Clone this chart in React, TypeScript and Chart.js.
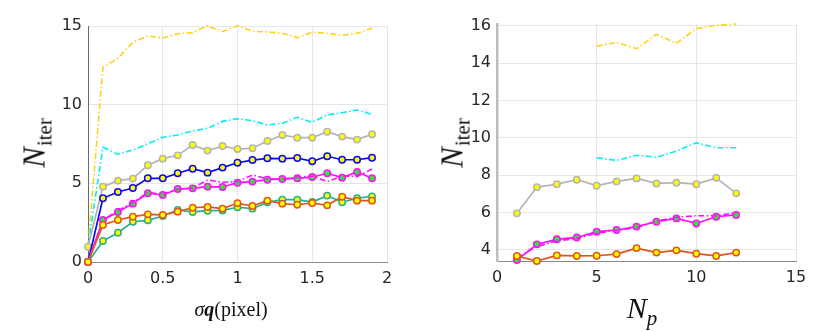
import React, { useEffect, useRef } from "react";
import { Chart, registerables } from "chart.js";

Chart.register(...registerables);

// ---------- Left panel: N_iter vs sigma q ----------
const sigmaQ = [0, 0.1, 0.2, 0.3, 0.4, 0.5, 0.6, 0.7, 0.8, 0.9, 1.0, 1.1, 1.2, 1.3, 1.4, 1.5, 1.6, 1.7, 1.8, 1.9];
const yellowL = [1, 12.38, 12.95, 13.97, 14.37, 14.24, 14.51, 14.58, 15.02, 14.64, 15.02, 14.67, 14.62, 14.54, 14.26, 14.6, 14.54, 14.41, 14.54, 14.86];
const cyanL = [1, 7.29, 6.84, 7.12, 7.5, 7.93, 8.07, 8.33, 8.5, 8.94, 9.11, 8.98, 8.71, 8.82, 9.2, 8.88, 9.35, 9.49, 9.66, 9.39];
const grayL = [0.97, 4.79, 5.17, 5.3, 6.15, 6.57, 6.78, 7.44, 7.08, 7.37, 7.18, 7.23, 7.69, 8.07, 7.9, 7.9, 8.28, 7.97, 7.78, 8.12];
const blueL = [0, 4.05, 4.45, 4.7, 5.32, 5.32, 5.64, 5.93, 5.68, 6.0, 6.31, 6.48, 6.59, 6.57, 6.61, 6.4, 6.72, 6.5, 6.5, 6.63];
const magentaL = [0, 2.67, 3.18, 3.71, 4.37, 4.26, 4.64, 4.68, 4.79, 4.77, 5.04, 5.11, 5.23, 5.28, 5.32, 5.4, 5.64, 5.36, 5.72, 5.32];
const magentaDashL = [0, 2.67, 3.27, 3.77, 4.42, 4.3, 4.62, 4.7, 5.21, 5.07, 5.11, 5.53, 5.28, 5.26, 5.4, 5.47, 5.11, 5.47, 5.43, 5.91];
const orangeL = [0, 2.35, 2.67, 2.88, 3.03, 2.99, 3.2, 3.45, 3.5, 3.39, 3.73, 3.56, 3.9, 3.71, 3.64, 3.75, 3.6, 4.15, 3.9, 3.9];
const tealL = [0, 1.33, 1.86, 2.56, 2.65, 2.92, 3.31, 3.18, 3.26, 3.28, 3.48, 3.39, 3.8, 3.96, 3.96, 3.81, 4.22, 3.8, 4.05, 4.17];
const xTicksL = [0, 0.5, 1, 1.5, 2];
const yTicksL = [0, 5, 10, 15];

// ---------- Right panel: N_iter vs N_p ----------
const Np = [1, 2, 3, 4, 5, 6, 7, 8, 9, 10, 11, 12];
const NpTail = [5, 6, 7, 8, 9, 10, 11, 12];
const yellowR = [14.9, 15.11, 14.77, 15.54, 15.06, 15.84, 16.02, 16.09];
const cyanR = [8.93, 8.79, 9.07, 8.96, 9.29, 9.73, 9.47, 9.47];
const grayR = [5.96, 7.36, 7.52, 7.76, 7.44, 7.67, 7.83, 7.56, 7.6, 7.52, 7.86, 7.03];
const magentaR = [3.46, 4.3, 4.57, 4.67, 4.98, 5.07, 5.25, 5.51, 5.69, 5.42, 5.78, 5.87];
const magentaDashR = [3.6, 4.18, 4.48, 4.62, 4.9, 5.05, 5.2, 5.55, 5.75, 5.83, 5.83, 6.0];
const orangeR = [3.68, 3.41, 3.71, 3.68, 3.69, 3.78, 4.1, 3.86, 3.98, 3.8, 3.68, 3.86];
const xTicksR = [0, 5, 10, 15];
const yTicksR = [4, 6, 8, 10, 12, 14, 16];

const C = {
  yellow: "#ffd21a",
  cyan: "#00f0f0",
  gray: "#b4b4b4",
  blue: "#0a0af0",
  magenta: "#ff10ff",
  orange: "#e0561c",
  teal: "#2aae8e",
  markYellow: "#ffff00",
  markGreen: "#2ee82e",
};
const DASHDOT = [6, 2.5, 1.5, 2.5];

const pts = (xs: number[], ys: number[]) => xs.map((x, i) => ({ x, y: ys[i] }));

function dashed(label: string, xs: number[], ys: number[], color: string) {
  return {
    label,
    data: pts(xs, ys),
    borderColor: color,
    borderWidth: 1.6,
    borderDash: DASHDOT,
    pointRadius: 0,
    fill: false,
    tension: 0,
    clip: false as const,
  };
}

function marked(label: string, xs: number[], ys: number[], color: string, fillColor: string) {
  return {
    label,
    data: pts(xs, ys),
    borderColor: color,
    borderWidth: 1.7,
    pointRadius: 3.2,
    pointBorderWidth: 1.5,
    pointBorderColor: color,
    pointBackgroundColor: fillColor,
    fill: false,
    tension: 0,
    clip: false as const,
  };
}

const tickFont = { family: "DejaVu Sans", size: 16 };

function scales(
  xr: [number, number], xt: number[], yr: [number, number], yt: number[],
  yWidth: number, xHeight: number, yBorder: { color: string; width: number }
) {
  return {
    x: {
      type: "linear" as const,
      min: xr[0],
      max: xr[1],
      afterBuildTicks: (s: any) => { s.ticks = xt.map((v) => ({ value: v })); },
      afterFit: (s: any) => { s.height = xHeight; },
      ticks: { font: tickFont, color: "#262626", padding: 7, maxRotation: 0, autoSkip: false, callback: (v: any) => String(v) },
      grid: { color: "#e6e6e6", drawTicks: false, lineWidth: 1 },
      border: { color: "#8a8a8a", width: 1 },
    },
    y: {
      type: "linear" as const,
      min: yr[0],
      max: yr[1],
      afterBuildTicks: (s: any) => { s.ticks = yt.map((v) => ({ value: v })); },
      afterFit: (s: any) => { s.width = yWidth; },
      ticks: { font: tickFont, color: "#262626", padding: 6, autoSkip: false, callback: (v: any) => String(v) },
      grid: { color: "#e6e6e6", drawTicks: false, lineWidth: 1 },
      border: yBorder,
    },
  };
}

function ChartBox({ config, left }: { config: any; left: number }) {
  const ref = useRef<HTMLCanvasElement>(null);
  useEffect(() => {
    const chart = new Chart(ref.current as HTMLCanvasElement, config);
    return () => chart.destroy();
  }, []);
  return (
    <div style={{ position: "absolute", left, top: 0, width: 415, height: 332 }}>
      <canvas ref={ref} width={415} height={332} style={{ width: 415, height: 332 }} />
    </div>
  );
}

const leftConfig = {
  type: "line",
  data: {
    datasets: [
      marked("orange", sigmaQ, orangeL, C.orange, C.markYellow),
      marked("teal", sigmaQ, tealL, C.teal, C.markYellow),
      dashed("magenta dash", sigmaQ, magentaDashL, C.magenta),
      marked("magenta", sigmaQ, magentaL, C.magenta, C.markGreen),
      marked("blue", sigmaQ, blueL, C.blue, C.markYellow),
      marked("gray", sigmaQ, grayL, C.gray, C.markYellow),
      dashed("cyan", sigmaQ, cyanL, C.cyan),
      dashed("yellow", sigmaQ, yellowL, C.yellow),
    ],
  },
  options: {
    animation: false,
    responsive: false,
    maintainAspectRatio: false,
    layout: { padding: { left: 0, top: 26, right: 28, bottom: 0 } },
    plugins: { legend: { display: false }, tooltip: { enabled: false } },
    scales: scales([0, 2], xTicksL, [0, 15], yTicksL, 88, 70, { color: "#6a6a6a", width: 1 }),
  },
};

const rightConfig = {
  type: "line",
  data: {
    datasets: [
      marked("orange", Np, orangeR, C.orange, C.markYellow),
      dashed("magenta dash", Np, magentaDashR, C.magenta),
      marked("magenta", Np, magentaR, C.magenta, C.markGreen),
      marked("gray", Np, grayR, C.gray, C.markYellow),
      dashed("cyan", NpTail, cyanR, C.cyan),
      dashed("yellow", NpTail, yellowR, C.yellow),
    ],
  },
  options: {
    animation: false,
    responsive: false,
    maintainAspectRatio: false,
    layout: { padding: { left: 0, top: 24, right: 34, bottom: 0 } },
    plugins: { legend: { display: false }, tooltip: { enabled: false } },
    scales: scales([0, 15], xTicksR, [3.41, 16.09], yTicksR, 82, 71, { color: "#bdbdbd", width: 2.5 }),
  },
};

const serif = "'Liberation Serif', 'DejaVu Serif', serif";

function YTitle({ x }: { x: number }) {
  return (
    <div
      style={{
        position: "absolute", left: x, top: 143, transform: "translate(-50%, -50%) rotate(-90deg)",
        fontFamily: serif, fontSize: 31, color: "#111", whiteSpace: "nowrap", lineHeight: 1,
      }}
    >
      <i>N</i>
      <span style={{ fontSize: 21, position: "relative", top: 7, marginLeft: 1 }}>iter</span>
    </div>
  );
}

export default function App() {
  return (
    <div style={{ position: "fixed", left: 0, top: 0, width: 830, height: 332, background: "#fff", overflow: "hidden" }}>
      <ChartBox config={leftConfig} left={0} />
      <ChartBox config={rightConfig} left={415} />
      <YTitle x={34} />
      <YTitle x={452} />
      <div
        style={{
          position: "absolute", left: 231, top: 309, transform: "translate(-50%, -50%)",
          fontFamily: serif, fontSize: 20, color: "#111", whiteSpace: "nowrap", lineHeight: 1,
        }}
      >
        <i>σ</i><b><i>q</i></b>(pixel)
      </div>
      <div
        style={{
          position: "absolute", left: 642, top: 308, transform: "translate(-50%, -50%)",
          fontFamily: serif, fontSize: 30, color: "#111", whiteSpace: "nowrap", lineHeight: 1,
        }}
      >
        <i>N</i>
        <span style={{ fontSize: 21, position: "relative", top: 7 }}><i>p</i></span>
      </div>
    </div>
  );
}
